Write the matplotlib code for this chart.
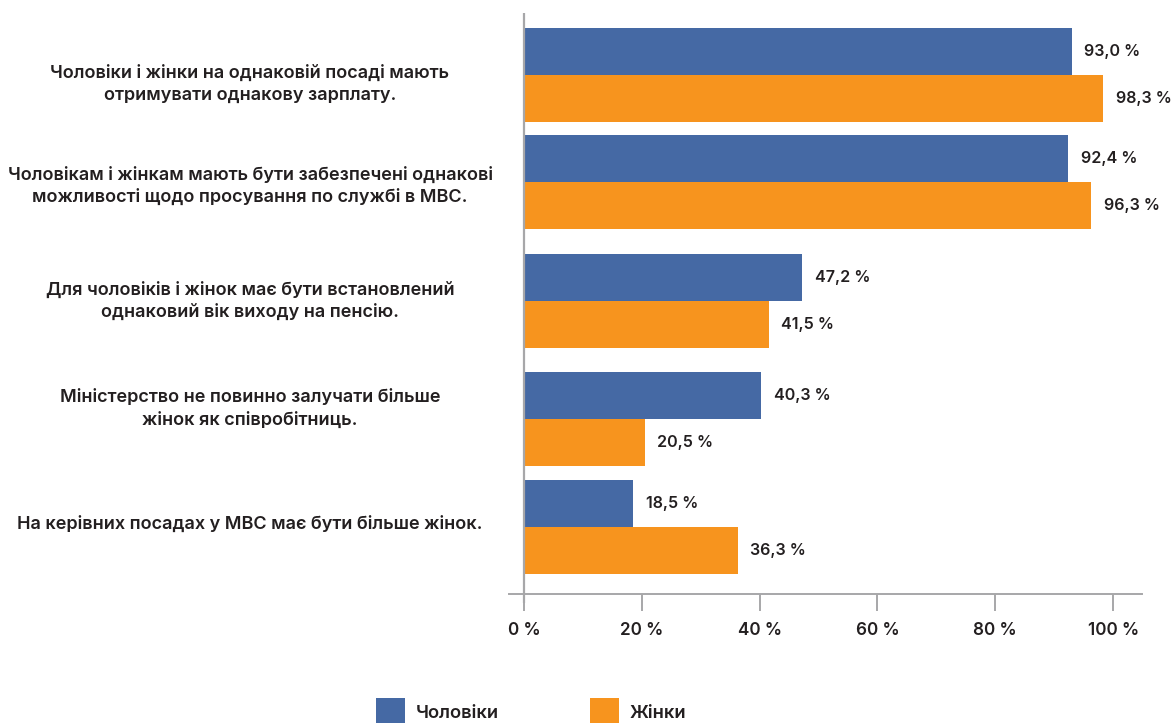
import matplotlib
matplotlib.use("Agg")
import matplotlib.pyplot as plt
from matplotlib.patches import Rectangle
from matplotlib import transforms

plt.rcParams['font.family'] = ['Inter', 'DejaVu Sans']

categories = [
    "Чоловіки і жінки на однаковій посаді мають\nотримувати однакову зарплату.",
    "Чоловікам і жінкам мають бути забезпечені однакові\nможливості щодо просування по службі в МВС.",
    "Для чоловіків і жінок має бути встановлений\nоднаковий вік виходу на пенсію.",
    "Міністерство не повинно залучати більше\nжінок як співробітниць.",
    "На керівних посадах у МВС має бути більше жінок.",
]
men = [93.0, 92.4, 47.2, 40.3, 18.5]
women = [98.3, 96.3, 41.5, 20.5, 36.3]
series_names = ["Чоловіки", "Жінки"]
x_ticks = [0, 20, 40, 60, 80, 100]
x_tick_labels = ["0 %", "20 %", "40 %", "60 %", "80 %", "100 %"]

# layout
group_pos = [0, 0.947, 2.0, 3.044, 4.0]
label_shift = [0.08, 0.04, 0.0, -0.09, -0.02]
bar_h = 0.416
c_blue = "#4569A4"
c_orange = "#F7941E"
c_axis = "#A7A7A9"
c_text = "#231F20"
fw = "semibold"

W, H = 1173, 723
fig = plt.figure(figsize=(W / 100, H / 100), dpi=100)
ax_l, ax_r, ax_t, ax_b = 509, 1142, 13, 594
ax = fig.add_axes([ax_l / W, (H - ax_b) / H, (ax_r - ax_l) / W, (ax_b - ax_t) / H])

for i, p in enumerate(group_pos):
    ax.barh(p - bar_h / 2, men[i], height=bar_h, color=c_blue, linewidth=0)
    ax.barh(p + bar_h / 2, women[i], height=bar_h, color=c_orange, linewidth=0)
    for v, y in ((men[i], p - bar_h / 2), (women[i], p + bar_h / 2)):
        ax.annotate(f"{v:.1f} %".replace(".", ","), xy=(v, y), xytext=(9, 0),
                    textcoords="offset points", va="center", ha="left",
                    fontsize=11.6, color=c_text, fontweight=fw)

ax.set_xlim(-2.55, 104.9)
ax.set_ylim(4.593, -0.549)
for s in ("top", "right", "left"):
    ax.spines[s].set_visible(False)
ax.spines["bottom"].set_color(c_axis)
ax.spines["bottom"].set_linewidth(1.4)
ax.set_yticks([])
ax.set_xticks(x_ticks)
ax.set_xticklabels(x_tick_labels, fontsize=12.3, color=c_text, fontweight=fw)
ax.tick_params(axis="x", length=12, width=1.4, color=c_axis, pad=8)

trans = transforms.blended_transform_factory(ax.transData, ax.transAxes)
ax.plot([0, 0], [-0.0155, 1], transform=trans, color=c_axis, lw=1.6,
        clip_on=False, solid_capstyle="butt")

# category labels
ltrans = transforms.blended_transform_factory(fig.transFigure, ax.transData)
for p, d, cat in zip(group_pos, label_shift, categories):
    fig.text(250 / W, p + d, cat, transform=ltrans, ha="center", va="center",
             fontsize=13.0, color=c_text, fontweight=fw, linespacing=1.4)

# legend
legend_items = [(376, c_blue, series_names[0]), (590, c_orange, series_names[1])]
for x0, col, name in legend_items:
    fig.patches.append(Rectangle((x0 / W, 0), 29 / W, 25 / H, transform=fig.transFigure,
                                 facecolor=col, edgecolor="none"))
    fig.text((x0 + 40) / W, (H - 713) / H, name, ha="left", va="center",
             fontsize=13.2, color=c_text, fontweight=fw)

fig.savefig("out.png", dpi=100, facecolor="white")
